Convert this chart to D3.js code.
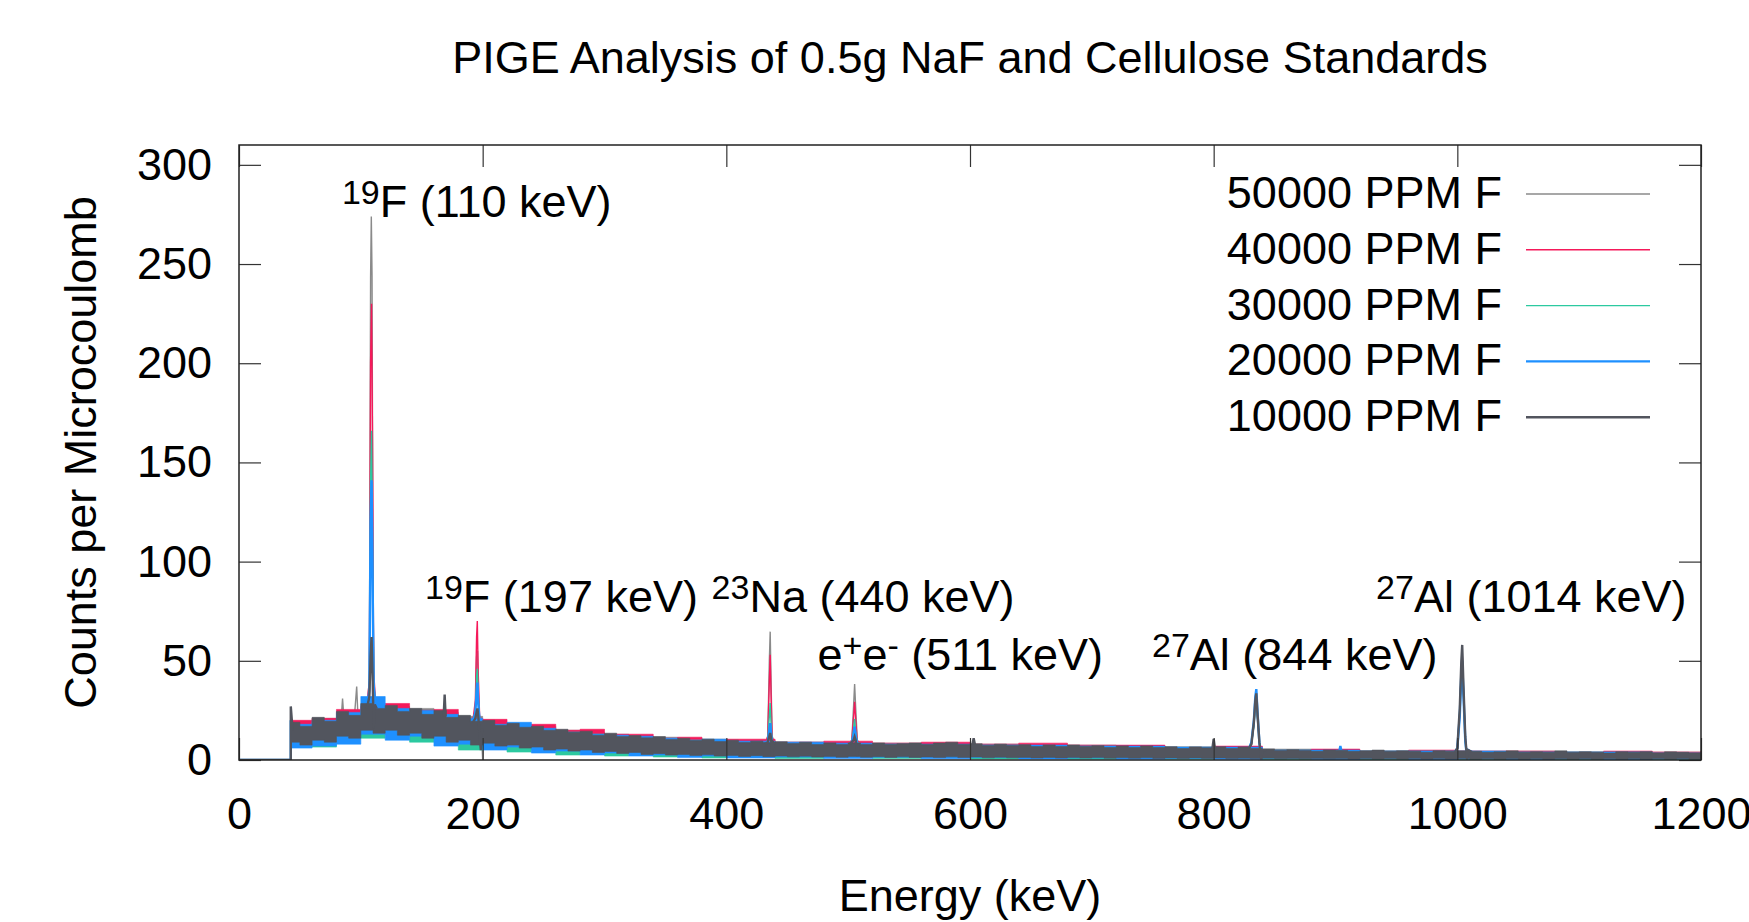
<!DOCTYPE html>
<html>
<head>
<meta charset="utf-8">
<script src="https://cdn.jsdelivr.net/npm/d3@7"></script>
<style>
  html, body { margin: 0; padding: 0; background: #fff; }
  svg { display: block; font-family: 'Liberation Sans', Arial, sans-serif; }
</style>
</head>
<body>
<svg id="chart" width="1749" height="922"></svg>
<script>
'use strict';

const TITLE = 'PIGE Analysis of 0.5g NaF and Cellulose Standards';
const X_LABEL = 'Energy (keV)';
const Y_LABEL = 'Counts per Microcoulomb';
const X_TICKS = [0, 200, 400, 600, 800, 1000, 1200];
const Y_TICKS = [0, 50, 100, 150, 200, 250, 300];

const SERIES_NAMES = ['50000 PPM F', '40000 PPM F', '30000 PPM F', '20000 PPM F', '10000 PPM F'];

// continuum bands: [energy keV, low count, high count]
const band50000 = [[43,9,18],[60,9,21],[80,12,24],[100,14,28],[120,14,27],[140,13,26],[160,11,24],[180,9,22],[200,8,19],[220,7,18],[240,6,17],[260,5,15],[280,4.5,14],[300,4,13],[320,3.5,12],[340,3,11.5],[360,2.5,11],[380,2.5,10.5],[400,2,10],[440,2,9],[480,1.6,8.5],[520,1.5,8.5],[560,1.4,8.5],[600,1.3,8],[640,1.2,7.5],[680,1.1,7.5],[720,1,7],[760,0.9,6.5],[800,0.9,6.5],[840,0.8,5.5],[880,0.7,5],[920,0.6,4.5],[960,0.6,4.5],[1000,0.6,4.5],[1040,0.5,4.5],[1080,0.5,4],[1120,0.5,4],[1160,0.5,4],[1200,0.5,4]];
const band40000 = [[43,8,20],[60,9,21],[80,12,25.5],[100,13,27],[120,13,28.5],[140,12,25],[160,10,25.5],[180,9,21],[200,7,20.5],[220,6.5,18],[240,5.5,18],[260,5,15],[280,4,15.5],[300,3.5,13],[320,3,13],[340,3,11],[360,2.5,11.5],[380,2.5,10],[400,2,10.5],[440,1.8,9],[480,1.5,9.5],[520,1.5,8.5],[560,1.4,9],[600,1.3,8],[640,1.2,8.5],[680,1.1,7.5],[720,1,7.5],[760,0.9,6.5],[800,0.9,7],[840,0.7,5],[880,0.7,5.5],[920,0.6,4.5],[960,0.6,5],[1000,0.6,4.5],[1040,0.5,4.5],[1080,0.5,4],[1120,0.5,4.5],[1160,0.5,4],[1200,0.5,4.5]];
const band30000 = [[43,8,17],[60,6.5,19],[80,11,22],[100,11,25],[120,13,25],[140,9,24],[160,10,22],[180,5,19],[200,7,17],[220,4,16],[240,5,15],[260,2.5,14],[280,4,13],[300,2,12],[320,3,11],[340,1.5,10.5],[360,2.3,10],[380,1,9.5],[400,1.8,9],[440,0.8,8.5],[480,1.4,8],[520,0.7,8],[560,1.2,7.5],[600,0.5,7.5],[640,1,7],[680,0.4,7],[720,0.9,6.5],[760,0.4,6.5],[800,0.8,6],[840,0.3,5],[880,0.6,4.5],[920,0.2,4.5],[960,0.5,4.5],[1000,0.2,4],[1040,0.4,4],[1080,0.2,4],[1120,0.4,4],[1160,0.2,3.5],[1200,0.4,3.5]];
const band20000 = [[43,6,18],[60,7,20],[80,8,24],[100,13,32],[120,10,26],[140,12,25],[160,7,23],[180,8,21],[200,5,18],[220,6.5,19],[240,3.5,16],[260,4.5,14],[280,2.5,13],[300,3.5,12.5],[320,2,12],[340,2.5,11],[360,1.2,10],[380,2,10.5],[400,1,9.5],[440,1.5,9],[480,0.7,8.5],[520,1.4,8],[560,0.6,8],[600,1.2,7.5],[640,0.5,7.5],[680,1,7],[720,0.4,7],[760,0.8,6.5],[800,0.4,6.5],[840,0.7,5],[880,0.3,5],[920,0.6,4.5],[960,0.2,4.5],[1000,0.5,4.5],[1040,0.2,4],[1080,0.5,4],[1120,0.2,4],[1160,0.5,3.5],[1200,0.2,4]];
const band10000 = [[43,9,19],[50,7.5,17],[60,10,21.5],[70,9,19.5],[80,12,24.5],[90,11,22.5],[100,15,28.5],[110,13.5,26],[120,15,27.5],[130,12.5,24.5],[140,13.5,26],[150,11,23],[160,12,25],[170,9,21.5],[180,10,22.5],[190,7.5,19.5],[200,8.5,20],[210,7,17.5],[220,7.5,18.5],[230,6,16.5],[240,6.5,17],[250,5,15],[260,5.5,15.5],[270,4.5,14],[280,5,14.5],[290,3.8,12.5],[300,4.3,13.5],[310,3.3,11.8],[320,3.8,12.3],[330,2.8,11.2],[340,3.2,11.8],[350,2.5,10.3],[360,2.8,11],[370,2.3,9.8],[380,2.6,10.5],[390,2,9.3],[400,2.3,10],[410,1.8,8.8],[420,2.2,9.5],[430,1.7,8.8],[440,2,9.2],[450,1.6,8.3],[460,1.9,9],[470,1.5,7.8],[480,1.8,8.6],[490,1.4,7.8],[500,1.8,8.6],[510,1.4,7.8],[520,1.7,8.6],[530,1.3,7.8],[540,1.6,8.2],[550,1.3,8.6],[560,1.5,7.8],[570,1.2,8.6],[580,1.6,9],[590,1.2,7.8],[600,1.5,8.2],[610,1.1,7.3],[620,1.4,8],[630,1.1,7.3],[640,1.3,7.7],[650,1,6.8],[660,1.3,7.6],[670,1,6.8],[680,1.2,7.6],[690,1,6.8],[700,1.2,7.2],[710,0.9,6.3],[720,1.1,7.1],[730,0.9,6.3],[740,1.1,7.1],[750,0.8,6.3],[760,1,6.7],[770,0.8,5.8],[780,1,6.6],[790,0.8,6.2],[800,1,6.7],[810,0.7,5.8],[820,0.9,6.6],[830,0.7,5.8],[840,0.9,5.6],[850,0.6,4.8],[860,0.8,5.2],[870,0.6,4.8],[880,0.8,4.4],[890,0.6,5.1],[900,0.7,4.9],[910,0.5,4.4],[920,0.7,4.6],[930,0.5,5],[940,0.7,4.4],[950,0.5,4.6],[960,0.7,4.4],[970,0.5,3.9],[980,0.7,4.6],[990,0.5,4.4],[1000,0.7,4.6],[1010,0.4,4.4],[1020,0.6,3.9],[1030,0.4,4.1],[1040,0.6,4.6],[1050,0.4,3.9],[1060,0.6,4.1],[1070,0.4,3.9],[1080,0.6,4.6],[1090,0.4,3.9],[1100,0.6,4.1],[1110,0.4,3.9],[1120,0.6,3.5],[1130,0.4,4.1],[1140,0.6,3.9],[1150,0.4,4.1],[1160,0.6,3.5],[1170,0.4,4.1],[1180,0.6,3.9],[1190,0.4,3.5],[1200,0.6,4]];

// peaks and spikes: each is a polyline of [energy keV, count]
const peaks50000 = [
  [[0,0],[42.5,0],[42.5,22],[44,14]],
  [[84,22],[85,31],[86,22]],
  [[95,24],[96.6,37],[97.5,24]],
  [[105,27],[107,40],[108,243],[108.6,274],[109.2,244],[110,80],[111,35],[113,27]],
  [[192,20],[194,25],[195,52],[195.8,55],[196.6,30],[198,16],[199.6,6],[200,0],[200.4,7],[202,17]],
  [[432,8],[434,12],[435.3,50],[436,64.7],[436.7,40],[437.6,12],[440,8]],
  [[501,8],[503,10],[504.5,28],[505.3,38.3],[506.2,26],[507.5,10],[510,8]],
  [[829,6],[831,8],[833,18],[834.2,28],[835,31],[836,22],[837.5,9],[839,1],[840,5],[843,5]],
  [[998,4],[1000,6],[1002,25],[1003.3,48],[1004,55],[1005,36],[1006.5,11],[1008,0.5],[1009,5],[1012,4]]
];
const peaks40000 = [
  [[0,0],[42.5,0],[42.5,20],[44,13]],
  [[105,27],[107,40],[108,200],[108.8,230],[109.6,160],[110.5,45],[112,30]],
  [[192,20],[194,30],[195,62],[195.6,70],[196.3,45],[197.5,22],[199,18]],
  [[432,8],[434,12],[435.3,40],[436,53],[436.7,33],[437.6,11],[440,8]],
  [[501,8],[503,10],[504.5,22],[505.3,29.4],[506.2,20],[507.5,9],[510,8]],
  [[829,6],[831,8],[833,18],[834.2,29],[835,32],[836,22],[837.5,9],[839,1],[840,5],[843,5]],
  [[998,4],[1000,6],[1002,24],[1003.3,47],[1004,54],[1005,35],[1006.5,11],[1008,0.5],[1009,5],[1012,4]]
];
const peaks30000 = [
  [[0,0],[42.5,0],[42.5,18],[44,12]],
  [[105,26],[107,35],[108,140],[108.8,166],[109.6,110],[110.5,40],[112,28]],
  [[192,19],[194,25],[195,42],[195.7,46],[196.4,32],[197.5,20],[199,17]],
  [[432,8],[434,10],[435.3,22],[436,28.7],[436.7,18],[437.6,9],[440,8]],
  [[501,8],[503,9],[504.5,16],[505.3,20.7],[506.2,14],[507.5,9],[510,8]],
  [[829,6],[831,8],[833,17],[834.2,27],[835,30],[836,21],[837.5,9],[839,1],[840,5],[843,5]],
  [[998,4],[1000,6],[1002,24],[1003.3,46],[1004,53],[1005,34],[1006.5,10],[1008,0.5],[1009,5],[1012,4]]
];
const peaks20000 = [
  [[0,0],[42.5,0],[42.5,20],[44,12]],
  [[105,26],[107,35],[108,120],[108.8,141],[109.6,95],[110.5,38],[112,27]],
  [[192,19],[194,24],[195,34],[195.7,39],[196.4,28],[197.5,20],[199,17]],
  [[432,8],[434,9],[435.3,15],[436,18.6],[436.7,13],[437.6,8],[440,8]],
  [[501,8],[503,9],[504.5,13],[505.3,16.8],[506.2,12],[507.5,8],[510,8]],
  [[829,6],[831,9],[833,20],[834.2,32],[835,35.7],[836,24],[837.5,9],[839,0.5],[840,5],[843,5]],
  [[903,4],[904,7],[905,4]],
  [[998,4],[1000,6],[1002,22],[1003.3,44],[1004,50],[1005,33],[1006.5,10],[1008,0.3],[1009,5],[1012,4]]
];
const peaks10000 = [
  [[0,0],[42.5,0],[42.5,27],[44,15]],
  [[105,26],[107,32],[108,52],[108.8,62],[109.6,44],[110.5,16],[111.5,28],[113,26]],
  [[168,22],[168.8,33],[169.6,22]],
  [[192,19],[194,21],[195,24],[195.7,26],[196.4,22],[197.5,12],[198.5,5],[199.5,16]],
  [[432,8],[434,9],[435.3,12],[436,13.6],[436.7,11],[437.6,2],[438.5,9],[440,8]],
  [[501,8],[503,9],[504.5,10],[505.3,11.7],[506.2,10],[507.5,2],[508.5,8],[510,8]],
  [[602,8],[603,11],[604,8]],
  [[799,6],[800,10.6],[801,6]],
  [[829,6],[831,8],[833,19],[834.2,30],[835,33.6],[836,23],[837.5,9],[839,0.5],[840,5],[843,5]],
  [[998,4],[1000,6],[1002,26],[1003.3,50],[1004,58],[1005,38],[1006.5,12],[1008,0.3],[1009,5],[1012,4]]
];

// peak labels, positioned in data units: [keV, counts]
const LABEL_POS = [[84.5,273.7],[152.7,74.6],[387.9,74.6],[474.9,45.4],[749.4,45.4],[933.3,74.6]];
const LABEL_PARTS = [
  [['19',1],['F (110 keV)',0]],
  [['19',1],['F (197 keV)',0]],
  [['23',1],['Na (440 keV)',0]],
  [['e',0],['+',1],['e',0],['-',1],[' (511 keV)',0]],
  [['27',1],['Al (844 keV)',0]],
  [['27',1],['Al (1014 keV)',0]]
];

const BANDS = [band50000, band40000, band30000, band20000, band10000];
const PEAKS = [peaks50000, peaks40000, peaks30000, peaks20000, peaks10000];
const COLORS = ['#8a8a8a', '#f5195a', '#2cc9a0', '#1e90ff', '#52555e'];
const WIDTHS = [1.4, 1.4, 1.4, 2.4, 2.4];

const FONT = 45;
const PLOT = { left: 239, right: 1701, top: 145, bottom: 760 };

const svg = d3.select('#chart');

const x = d3.scaleLinear().domain([0, 1200]).range([PLOT.left, PLOT.right]);
const y = d3.scaleLinear().domain([0, 310]).range([PLOT.bottom, PLOT.top]);

svg.append('clipPath').attr('id', 'clip')
  .append('rect')
  .attr('x', PLOT.left).attr('y', PLOT.top)
  .attr('width', PLOT.right - PLOT.left).attr('height', PLOT.bottom - PLOT.top);

// Title
svg.append('text')
  .attr('x', (PLOT.left + PLOT.right) / 2).attr('y', 73)
  .attr('text-anchor', 'middle').attr('font-size', FONT)
  .text(TITLE);

// Data
const area = d3.area().curve(d3.curveStepAfter)
  .x(d => x(d[0])).y0(d => y(d[1])).y1(d => y(d[2]));
const line = d3.line().x(d => x(d[0])).y(d => y(d[1]));

const plot = svg.append('g').attr('clip-path', 'url(#clip)');

BANDS.forEach((band, i) => {
  plot.append('path').datum(band)
    .attr('d', area)
    .attr('fill', COLORS[i])
    .attr('stroke', COLORS[i])
    .attr('stroke-width', 0.6);
  PEAKS[i].forEach(pk => {
    plot.append('path').datum(pk)
      .attr('d', line)
      .attr('fill', 'none')
      .attr('stroke', COLORS[i])
      .attr('stroke-width', WIDTHS[i])
      .attr('stroke-linejoin', 'miter');
  });
});

// Axes (gnuplot style: ticks inside, mirrored)
const TICK = 22;
function styleAxis(g) {
  g.select('.domain').remove();
  g.selectAll('.tick line').attr('stroke', '#333').attr('stroke-width', 1.2);
  g.selectAll('.tick text').attr('font-size', FONT).attr('fill', '#000')
    .attr('font-family', "'Liberation Sans', Arial, sans-serif");
}

svg.append('g')
  .attr('transform', `translate(0,${PLOT.bottom})`)
  .call(d3.axisBottom(x).tickValues(X_TICKS).tickSize(-TICK).tickPadding(37).tickFormat(d3.format('d')))
  .call(styleAxis);

svg.append('g')
  .attr('transform', `translate(0,${PLOT.top})`)
  .call(d3.axisTop(x).tickValues(X_TICKS).tickSize(-TICK).tickFormat(''))
  .call(styleAxis);

svg.append('g')
  .attr('transform', `translate(${PLOT.left},0)`)
  .call(d3.axisLeft(y).tickValues(Y_TICKS).tickSize(-TICK).tickPadding(27).tickFormat(d3.format('d')))
  .call(styleAxis);

svg.append('g')
  .attr('transform', `translate(${PLOT.right},0)`)
  .call(d3.axisRight(y).tickValues(Y_TICKS).tickSize(-TICK).tickFormat(''))
  .call(styleAxis);

// Border
svg.append('rect')
  .attr('x', PLOT.left).attr('y', PLOT.top)
  .attr('width', PLOT.right - PLOT.left).attr('height', PLOT.bottom - PLOT.top)
  .attr('fill', 'none').attr('stroke', '#222').attr('stroke-width', 1.5);

// Axis labels
svg.append('text')
  .attr('x', (PLOT.left + PLOT.right) / 2).attr('y', 911)
  .attr('text-anchor', 'middle').attr('font-size', FONT)
  .text(X_LABEL);

svg.append('text')
  .attr('transform', `translate(96,${(PLOT.top + PLOT.bottom) / 2}) rotate(-90)`)
  .attr('text-anchor', 'middle').attr('font-size', FONT)
  .text(Y_LABEL);

// Peak labels with superscripts
const SUP = 34, SUP_SHIFT = 13;
LABEL_PARTS.forEach((parts, i) => {
  const t = svg.append('text')
    .attr('x', x(LABEL_POS[i][0])).attr('y', y(LABEL_POS[i][1]))
    .attr('font-size', FONT);
  let raised = false;
  parts.forEach(([s, sup]) => {
    const ts = t.append('tspan').text(s);
    if (sup && !raised) { ts.attr('dy', -SUP_SHIFT).attr('font-size', SUP); raised = true; }
    else if (sup) { ts.attr('font-size', SUP); }
    else if (raised) { ts.attr('dy', SUP_SHIFT); raised = false; }
  });
});

// Legend
const LEG = { textRight: 1502, x1: 1526, x2: 1650, y0: 194, dy: 55.8 };
SERIES_NAMES.forEach((name, i) => {
  const ly = LEG.y0 + i * LEG.dy;
  svg.append('text')
    .attr('x', LEG.textRight).attr('y', ly + 14)
    .attr('text-anchor', 'end').attr('font-size', FONT)
    .text(name);
  svg.append('line')
    .attr('x1', LEG.x1).attr('x2', LEG.x2)
    .attr('y1', ly).attr('y2', ly)
    .attr('stroke', COLORS[i]).attr('stroke-width', WIDTHS[i]);
});
</script>
</body>
</html>
